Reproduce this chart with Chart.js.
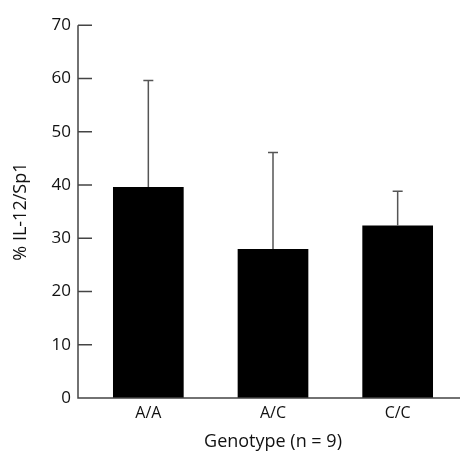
<!DOCTYPE html>
<html>
<head>
<meta charset="utf-8">
<script src="https://cdn.jsdelivr.net/npm/chart.js@4"></script>
<style>
  html, body { margin: 0; padding: 0; background: #fff; }
  #wrap { width: 464px; height: 453px; }
</style>
</head>
<body>
<div id="wrap"><canvas id="chart" width="464" height="453"></canvas></div>
<script>
// Data
const genotypes = ['A/A', 'A/C', 'C/C'];
const meanValues = [39.6, 28.0, 32.4];
const errorTops = [59.6, 46.1, 38.8];
const yTicks = [0, 10, 20, 30, 40, 50, 60, 70];

const FONT = '"Open Sans", Lato, sans-serif';
const AXIS_COLOR = '#444';

// Axis line + inward tick marks, drawn a bit left of the plot area like the original
const axesPlugin = {
  id: 'axes',
  afterDraw(chart) {
    const { ctx, chartArea, scales } = chart;
    const axisX = chartArea.left - 8;
    const y0 = scales.y.getPixelForValue(0);
    ctx.save();
    ctx.strokeStyle = AXIS_COLOR;
    ctx.lineWidth = 1.5;
    ctx.beginPath();
    ctx.moveTo(axisX, scales.y.getPixelForValue(70));
    ctx.lineTo(axisX, y0);
    ctx.lineTo(chartArea.right, y0);
    yTicks.forEach(v => {
      const py = scales.y.getPixelForValue(v);
      ctx.moveTo(axisX, py);
      ctx.lineTo(axisX + 14, py);
    });
    ctx.stroke();
    ctx.restore();
  }
};

// One-sided error bars (upward only)
const errorBarPlugin = {
  id: 'errorBars',
  afterDatasetsDraw(chart) {
    const { ctx, scales } = chart;
    const meta = chart.getDatasetMeta(0);
    ctx.save();
    ctx.strokeStyle = '#555';
    ctx.lineWidth = 1.5;
    meta.data.forEach((bar, i) => {
      const top = scales.y.getPixelForValue(errorTops[i]);
      ctx.beginPath();
      ctx.moveTo(bar.x, bar.y);
      ctx.lineTo(bar.x, top);
      ctx.moveTo(bar.x - 5, top);
      ctx.lineTo(bar.x + 5, top);
      ctx.stroke();
    });
    ctx.restore();
  }
};

new Chart(document.getElementById('chart'), {
  type: 'bar',
  data: {
    labels: genotypes,
    datasets: [{
      data: meanValues,
      backgroundColor: '#000',
      borderWidth: 0,
      barPercentage: 0.567,
      categoryPercentage: 1.0,
    }],
  },
  options: {
    responsive: false,
    animation: false,
    layout: { padding: { top: 20, right: 4, left: 10, bottom: 0 } },
    plugins: {
      legend: { display: false },
      tooltip: { enabled: false },
    },
    scales: {
      x: {
        offset: true,
        grid: { display: false, drawTicks: false },
        border: { display: false },
        ticks: { color: '#111', font: { family: FONT, size: 16 }, padding: 6 },
        title: {
          display: true,
          text: 'Genotype (n = 9)',
          color: '#111',
          font: { family: FONT, size: 18 },
          padding: { top: 0, bottom: 0 },
        },
        afterFit(scale) { scale.height = 55; },
      },
      y: {
        min: 0,
        max: 70,
        afterBuildTicks(scale) { scale.ticks = yTicks.map(v => ({ value: v })); },
        grid: { display: false, drawTicks: false },
        border: { display: false },
        ticks: { color: '#111', font: { family: FONT, size: 17 }, padding: 15 },
        title: {
          display: true,
          text: '% IL-12/Sp1',
          color: '#111',
          font: { family: FONT, size: 18 },
          padding: 0,
        },
        afterFit(scale) { scale.width = 76; },
      },
    },
  },
  plugins: [axesPlugin, errorBarPlugin],
});
</script>
</body>
</html>
